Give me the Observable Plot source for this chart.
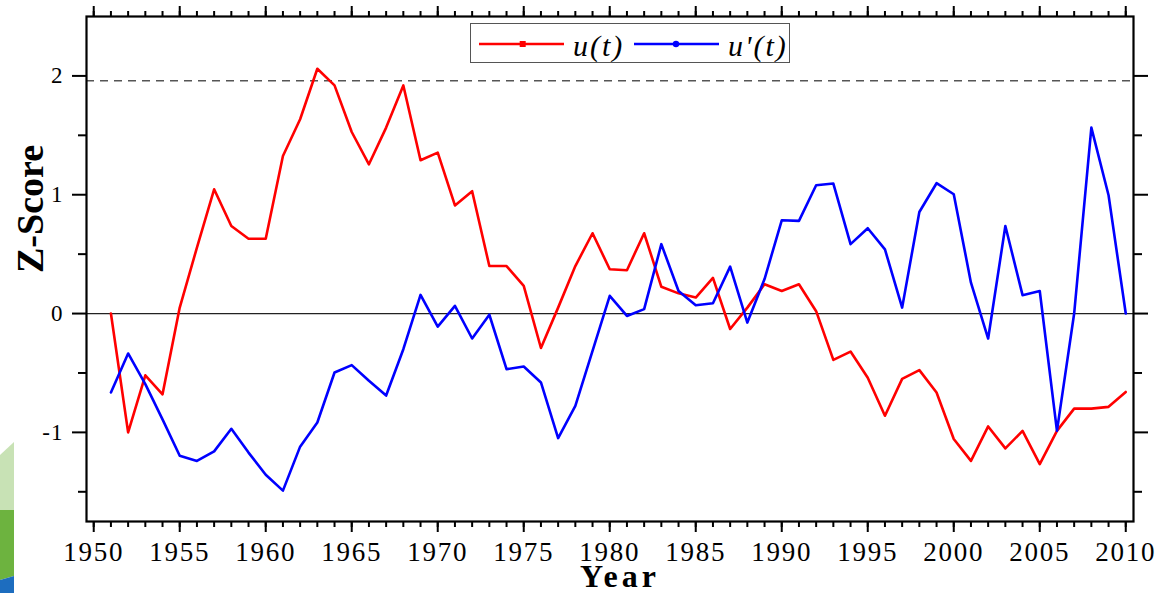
<!DOCTYPE html>
<html>
<head>
<meta charset="utf-8">
<script src="https://cdn.jsdelivr.net/npm/d3@7"></script>
<script src="https://cdn.jsdelivr.net/npm/@observablehq/plot@0.6"></script>
<style>
  body { margin: 0; background: #fff; }
  #wrap { position: relative; width: 1163px; height: 593px; overflow: hidden; background: #fff; }
  #wrap svg.chart { position: absolute; left: 0; top: 0; }
  g[aria-label="x-axis tick label"] text { letter-spacing: 1.8px; }
  g[aria-label="y-axis tick label"] text { letter-spacing: 1px; }
  #legend { position: absolute; left: 470px; top: 23px; width: 318px; height: 38px; border: 1px solid #555; background: #fff; }
  #deco { position: absolute; left: 0; top: 430px; }
</style>
</head>
<body>
<div id="wrap"></div>
<script>
// ---- data ----
const years = [1951,1952,1953,1954,1955,1956,1957,1958,1959,1960,
               1961,1962,1963,1964,1965,1966,1967,1968,1969,1970,
               1971,1972,1973,1974,1975,1976,1977,1978,1979,1980,
               1981,1982,1983,1984,1985,1986,1987,1988,1989,1990,
               1991,1992,1993,1994,1995,1996,1997,1998,1999,2000,
               2001,2002,2003,2004,2005,2006,2007,2008,2009,2010];

// u(t) — red
const uForward = [0.00,-1.00,-0.52,-0.68,0.05,0.555,1.046,0.737,0.63,0.63,
                  1.326,1.635,2.06,1.92,1.528,1.256,1.565,1.92,1.29,1.354,
                  0.91,1.03,0.40,0.40,0.233,-0.29,0.05,0.40,0.676,0.373,
                  0.365,0.676,0.225,0.17,0.135,0.30,-0.13,0.05,0.247,0.19,
                  0.247,0.02,-0.39,-0.32,-0.54,-0.86,-0.55,-0.476,-0.664,-1.056,
                  -1.24,-0.95,-1.135,-0.987,-1.267,-0.987,-0.80,-0.80,-0.785,-0.66];

// u'(t) — blue
const uBackward = [-0.664,-0.336,-0.594,-0.89,-1.197,-1.24,-1.16,-0.97,-1.17,-1.357,
                   -1.49,-1.12,-0.917,-0.496,-0.434,-0.566,-0.69,-0.30,0.157,-0.11,
                   0.065,-0.21,-0.01,-0.468,-0.446,-0.58,-1.048,-0.776,-0.314,0.149,
                   -0.02,0.037,0.584,0.19,0.07,0.087,0.395,-0.076,0.29,0.785,
                   0.78,1.08,1.094,0.584,0.718,0.54,0.05,0.855,1.097,1.004,
                   0.26,-0.21,0.737,0.155,0.19,-0.987,0.00,1.565,0.996,0.00];

const criticalValue = 1.96;
const xMajorTicks = [1950,1955,1960,1965,1970,1975,1980,1985,1990,1995,2000,2005,2010];
const xMinorTicks = d3.range(1950, 2011);
const yMajorTicks = [-1, 0, 1, 2];
const yMinorTicks = [-1.5, -0.5, 0.5, 1.5];
const seriesNames = ["u(t)", "u'(t)"];
const seriesColors = ["#ff0000", "#0000ff"];
const xTitle = "Year";
const yTitle = "Z-Score";

const rows = years.map((year, i) => ({year, uf: uForward[i], ub: uBackward[i]}));

const fmt = d => String(d);
const blank = () => "";

const chart = Plot.plot({
  width: 1163,
  height: 593,
  marginLeft: 86,
  marginRight: 30,
  marginTop: 16,
  marginBottom: 72,
  className: "chart",
  style: { fontFamily: "'Liberation Serif', 'Times New Roman', serif", color: "black", background: "white", overflow: "visible" },
  x: { domain: [1949.58, 2010.45], label: null },
  y: { domain: [-1.75, 2.5], label: null },
  marks: [
    Plot.ruleY([criticalValue], { stroke: "#555", strokeWidth: 1.5, strokeDasharray: "8,6" }),
    Plot.ruleY([0], { stroke: "#222", strokeWidth: 1.3 }),
    Plot.lineY(rows, { x: "year", y: "uf", stroke: seriesColors[0], strokeWidth: 2.6 }),
    Plot.lineY(rows, { x: "year", y: "ub", stroke: seriesColors[1], strokeWidth: 2.6 }),
    Plot.frame({ stroke: "black", strokeWidth: 2.2 }),
    // bottom axis
    Plot.axisX(xMinorTicks, { anchor: "bottom", tickSize: 6, strokeWidth: 2, tickFormat: blank, label: null }),
    Plot.axisX(xMajorTicks, { anchor: "bottom", tickSize: 11, tickPadding: 9, strokeWidth: 2, fontSize: 27, tickFormat: fmt, label: null, fill: "black" }),
    // top axis
    Plot.axisX(xMinorTicks, { anchor: "top", tickSize: 6, strokeWidth: 2, tickFormat: blank, label: null }),
    Plot.axisX(xMajorTicks, { anchor: "top", tickSize: 11, strokeWidth: 2, tickFormat: blank, label: null }),
    // left axis
    Plot.axisY(yMinorTicks, { anchor: "left", tickSize: 8, strokeWidth: 2, tickFormat: blank, label: null }),
    Plot.axisY(yMajorTicks, { anchor: "left", tickSize: 14, tickPadding: 9, strokeWidth: 2, fontSize: 23, tickFormat: fmt, label: null, fill: "black" }),
    // right axis
    Plot.axisY(yMinorTicks, { anchor: "right", tickSize: 8, strokeWidth: 2, tickFormat: blank, label: null }),
    Plot.axisY(yMajorTicks, { anchor: "right", tickSize: 14, strokeWidth: 2, tickFormat: blank, label: null }),
    // titles
    Plot.text([xTitle], { text: d => d, frameAnchor: "bottom", dx: 10, dy: 55, lineAnchor: "middle", fontSize: 32, fontWeight: "bold", fill: "black" }),
    Plot.text([yTitle], { text: d => d, frameAnchor: "left", dx: -56, dy: 4, rotate: -90, lineAnchor: "middle", fontSize: 38, fontWeight: "bold", fill: "black" })
  ]
});

const wrap = document.getElementById("wrap");
wrap.appendChild(chart);

// letter spacing for "Year" (the reference text is horizontally stretched)
d3.select(chart).selectAll("text").filter(function() { return this.textContent === xTitle; }).style("letter-spacing", "4px");

// legend (inside plot area, top)
const legend = document.createElement("div");
legend.id = "legend";
const lsvg = d3.create("svg").attr("width", 318).attr("height", 38)
  .style("font-family", "'Liberation Serif', 'Times New Roman', serif");
const entries = [
  { x0: 8, x1: 93, mx: 51.7, tx: 102, marker: "square" },
  { x0: 163, x1: 248, mx: 205, tx: 257, marker: "circle" }
];
entries.forEach((e, i) => {
  lsvg.append("line").attr("x1", e.x0).attr("x2", e.x1).attr("y1", 20).attr("y2", 20)
    .attr("stroke", seriesColors[i]).attr("stroke-width", 2.4);
  if (e.marker === "square") {
    lsvg.append("rect").attr("x", e.mx - 3).attr("y", 17).attr("width", 6).attr("height", 6).attr("fill", seriesColors[i]);
  } else {
    lsvg.append("circle").attr("cx", e.mx).attr("cy", 20).attr("r", 3.2).attr("fill", seriesColors[i]);
  }
  lsvg.append("text").attr("x", e.tx).attr("y", 32).attr("font-size", 30).attr("font-style", "italic")
    .attr("fill", "black").style("letter-spacing", "2px").text(seriesNames[i]);
});
legend.appendChild(lsvg.node());
wrap.appendChild(legend);

// bottom-left corner decoration present in the reference image
const deco = d3.create("svg").attr("id", "deco").attr("width", 14).attr("height", 163);
deco.append("polygon").attr("points", "0,25 14,12 14,80 0,80").attr("fill", "#c8e2b5");
deco.append("polygon").attr("points", "0,80 14,80 14,146 0,150").attr("fill", "#6db33f");
deco.append("polygon").attr("points", "0,150 14,146 14,163 0,163").attr("fill", "#1d6dbf");
wrap.appendChild(deco.node());
</script>
</body>
</html>
